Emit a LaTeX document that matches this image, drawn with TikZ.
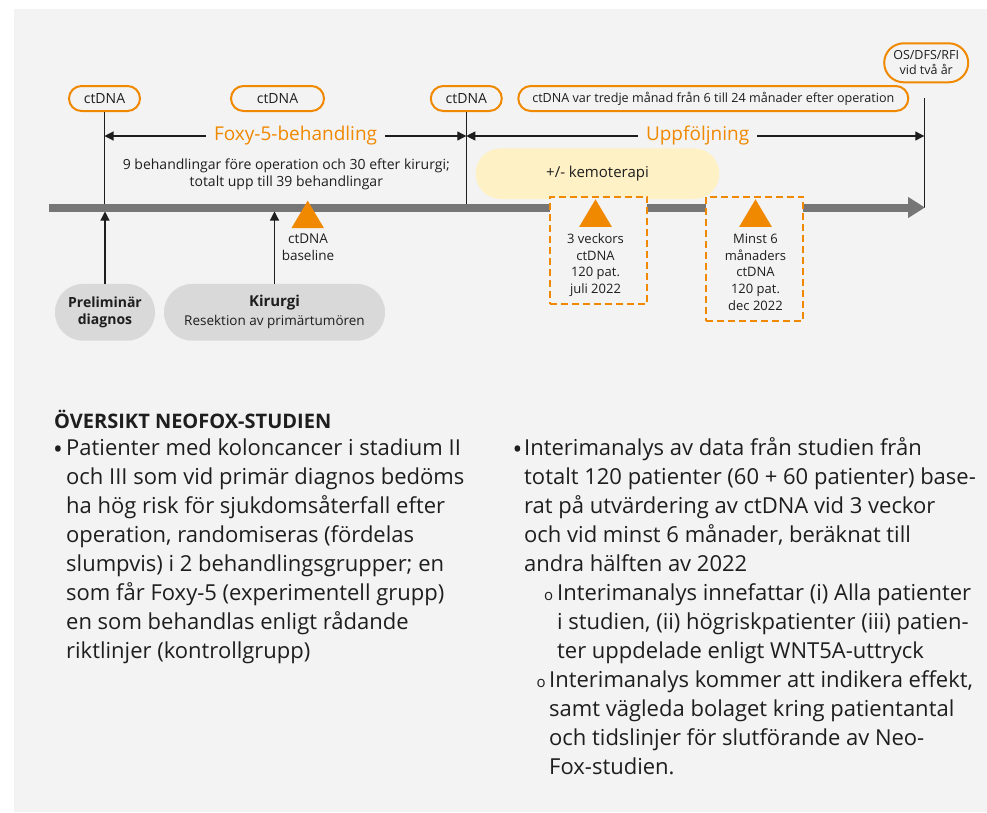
\documentclass[tikz,border=0pt]{standalone}
\usepackage{fontspec}
\setmainfont{Open Sans}
\usetikzlibrary{arrows.meta}
\definecolor{bggray}{HTML}{F3F3F3}
\definecolor{foxorange}{HTML}{F08800}
\definecolor{bargray}{HTML}{767676}
\definecolor{pillgray}{HTML}{D9D9D9}
\definecolor{kemoyellow}{HTML}{FFF1C6}
\definecolor{inktext}{HTML}{1E1E1E}
\newcommand{\fs}[2]{\fontsize{#1}{#2}\selectfont}

\begin{document}
\begin{tikzpicture}[x=1pt,y=-1pt,inner sep=0pt,
    every node/.style={text=inktext},
    thin line/.style={draw=inktext,line width=1.1pt},
    tip/.style={-{Triangle[length=9pt,width=9pt]}},
    ctpill/.style={draw=foxorange,line width=2pt,rounded corners=12.5pt,minimum height=25pt,font=\fs{14}{17}},
    graypill/.style={fill=pillgray,rounded corners=28pt,minimum height=56.7pt,align=center},
    dashbox/.style={draw=foxorange,line width=2pt,dash pattern=on 7pt off 4pt,fill=bggray},
    spanlabel/.style={fill=bggray,inner xsep=8pt,inner ysep=2pt,text=foxorange,font=\fs{19}{22}},
    lbl/.style={font=\fs{13}{16.7},align=center,anchor=base},
    body/.style={font=\fs{22}{29},align=left,anchor=base west},
    bullet/.style={font=\fs{26}{29},anchor=base west,yshift=-3pt},
    subbullet/.style={font=\fs{15}{29},anchor=base west}]

    \useasboundingbox (0,0) rectangle (987,812);
    \fill[bggray] (14,9) rectangle (987,812);

    \node[ctpill,minimum width=71pt] (ctA) at (104.5,98.5) {ctDNA};
    \node[ctpill,minimum width=93pt] (ctB) at (277.5,98.5) {ctDNA};
    \node[ctpill,minimum width=71pt] (ctC) at (466.3,98.5) {ctDNA};
    \node[ctpill,minimum width=390pt,font=\fs{12.6}{15}] (ctF) at (713.3,98.5) {ctDNA var tredje månad från 6 till 24 månader efter operation};
    \node[ctpill,minimum width=84pt,minimum height=39pt,rounded corners=19.5pt,align=center,font=\fs{12.5}{15}] (os) at (926.2,62.8) {OS/DFS/RFI\\vid två år};

    \node[fill=kemoyellow,rounded corners=25pt,minimum width=243.6pt,minimum height=50.7pt,font=\fs{15}{18}] (kemo) at (597.5,173.7) {+/- kemoterapi};

    \coordinate (barL) at (49,207.5);
    \coordinate (barR) at (925,207.5);
    \coordinate (barLow) at (0,211.5);
    \coordinate (spanY) at (0,136);
    \coordinate (osEnd) at (924.3,98.3);

    \draw[thin line] (ctA.south) -- (ctA.south |- barL);
    \draw[thin line] (ctC.south) -- (ctC.south |- barL);
    \draw[thin line] (osEnd) -- (osEnd |- barL);

    \draw[thin line,{Triangle[length=9pt,width=9pt]}-{Triangle[length=9pt,width=9pt]}] (ctA.south |- spanY) -- node[pos=0.528,spanlabel] (foxy) {Foxy-5-behandling} (ctC.south |- spanY);
    \draw[thin line,{Triangle[length=9pt,width=9pt]}-{Triangle[length=9pt,width=9pt]}] (ctC.south |- spanY) -- node[pos=0.505,spanlabel] (uppf) {Uppföljning} (osEnd |- spanY);

    \node[font=\fs{14}{16.7},align=center,anchor=base] (plan) at (286.3,186) {9 behandlingar före operation och 30 efter kirurgi;\\totalt upp till 39 behandlingar};

    \draw[bargray,line width=8pt,-{Triangle[length=17pt,width=20pt]}] (barL) -- (barR);

    \node[dashbox,minimum width=97.3pt,minimum height=107.3pt] (wk3) at (598.65,250.35) {};
    \node[dashbox,minimum width=97.3pt,minimum height=124pt] (m6) at (754.65,258.7) {};

    \foreach \x/\y in {307.7/200.7,595.5/199.3,755.5/199.3}{
        \fill[foxorange] (\x,\y) -- ++(16.3,27.5) -- ++(-32.6,0) -- cycle;
    }

    \node[lbl,font=\fs{13.5}{16.7}] (basetxt) at (308,260) {ctDNA\\baseline};
    \node[lbl] (wk3txt) at (595.5,293.4) {3 veckors\\ctDNA\\120 pat.\\juli 2022};
    \node[lbl] (m6txt) at (755.5,310.1) {Minst 6\\månaders\\ctDNA\\120 pat.\\dec 2022};

    \node[graypill,minimum width=100pt,font=\bfseries\fs{14}{16.7}] (prelim) at (105,312.3) {Preliminär\\diagnos};
    \node[graypill,minimum width=221pt,font=\fs{13.5}{19}] (kir) at (274.5,312.3) {\textbf{\fs{15}{19}Kirurgi}\\Resektion av primärtumören};

    \draw[thin line,tip] (prelim.north) -- (prelim.north |- barLow);
    \draw[thin line,tip] (kir.north) -- (kir.north |- barLow);

    \node[anchor=base west,font=\bfseries\fs{20}{22}] (title) at (54,428) {ÖVERSIKT NEOFOX-STUDIEN};

    \node[bullet] (dotA) at (53,455.5) {•};
    \node[body] (itemA) at (66,658.5) {Patienter med koloncancer i stadium II\\och III som vid primär diagnos bedöms\\ha hög risk för sjukdomsåterfall efter\\operation, randomiseras (fördelas\\slumpvis) i 2 behandlingsgrupper; en\\som får Foxy-5 (experimentell grupp)\\en som behandlas enligt rådande\\riktlinjer (kontrollgrupp)};

    \node[bullet] (dotB) at (512.5,455.5) {•};
    \node[body] (itemB) at (524,571.5) {Interimanalys av data från studien från\\totalt 120 patienter (60 + 60 patienter) base-\\rat på utvärdering av ctDNA vid 3 veckor\\och vid minst 6 månader, beräknat till\\andra hälften av 2022};

    \node[subbullet] (subdotA) at (544,600.5) {o};
    \node[body] (subA) at (557,658.5) {Interimanalys innefattar (i) Alla patienter\\i studien, (ii) högriskpatienter (iii) patien-\\ter uppdelade enligt WNT5A-uttryck};

    \node[subbullet] (subdotB) at (536.5,687.5) {o};
    \node[body] (subB) at (549,774.5) {Interimanalys kommer att indikera effekt,\\samt vägleda bolaget kring patientantal\\och tidslinjer för slutförande av Neo-\\Fox-studien.};
\end{tikzpicture}
\end{document}
